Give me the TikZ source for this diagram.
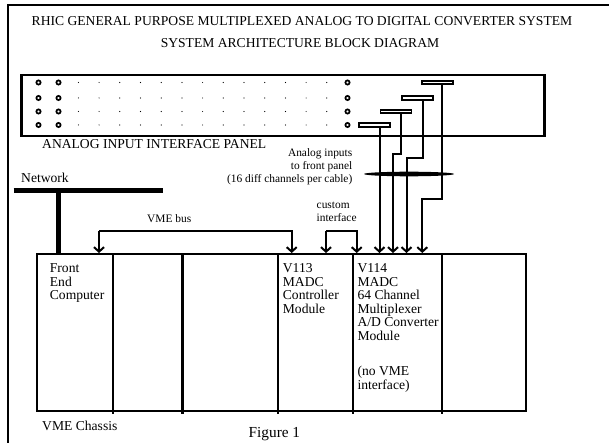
\documentclass[tikz,border=0pt]{standalone}
\usepackage{fontspec}
\setmainfont{Liberation Serif}
\usetikzlibrary{arrows.meta}
\tikzset{
  big/.style={font=\fontsize{13.6}{13.5}\selectfont, inner sep=0pt, align=left},
  small/.style={font=\fontsize{11.4}{12.9}\selectfont, inner sep=0pt},
  cable/.style={line width=2pt},
  arr/.style={-{Straight Barb[length=4.5pt,width=10pt,line width=2pt]}},
  slot/.style={draw, line width=1.7pt, minimum width=31pt, minimum height=3.4pt, inner sep=0pt, fill=white},
  hole/.style={draw, line width=1.7pt, fill=white},
}
\begin{document}
\begin{tikzpicture}[x=1pt,y=-1pt]
\useasboundingbox (0,0) rectangle (609,443);
% outer frame
\coordinate (fbl) at (8,443);
\coordinate (ftl) at (8,5);
\coordinate (ftr) at (609,5);
\draw[line width=2.5pt] (fbl) -- (ftl) -- (ftr);
% titles
\node[big, anchor=center] (t1) at (302,20.7) {RHIC GENERAL PURPOSE MULTIPLEXED ANALOG TO DIGITAL CONVERTER SYSTEM};
\node[big, anchor=center] (t2) at (300,42.7) {SYSTEM ARCHITECTURE BLOCK DIAGRAM};
% panel
\node[draw, line width=2.5pt, minimum width=523pt, minimum height=61pt, anchor=north west, inner sep=0pt] (panel) at (20,74) {};
\foreach \y in {82.5,98,111.5,125} {
  \draw[hole] (38.5,\y) circle (2.1pt);
  \draw[hole] (58.5,\y) circle (2.1pt);
  \draw[hole] (347.5,\y) circle (2.1pt);
  \foreach \i in {0,...,12} {
    \fill ({78.4+20.7*\i},\y) circle (0.6pt);
  }
}
\node[slot] (b4) at (374.5,125) {};
\node[slot] (b3) at (396,111.5) {};
\node[slot] (b2) at (417.5,98) {};
\node[slot] (b1) at (437.5,82.5) {};
\node[big, anchor=west] (ptitle) at (42,144) {ANALOG INPUT INTERFACE PANEL};
% analog input label
\node[small, anchor=north east, align=right] (ain) at (352.5,148.6) {Analog inputs\\to front panel\\(16 diff channels per cable)};
% chassis
\node[draw, line width=2.2pt, minimum width=489.3pt, minimum height=157pt, anchor=north west, inner sep=0pt] (chassis) at (35.7,253) {};
\foreach \x/\n in {112.6/d1,182.5/d2,278.3/d3,353.3/d4,441.7/d5} {
  \coordinate (\n) at (\x,253);
  \draw[line width=2.2pt] (\n) -- (\x,413.5);
}
% chassis labels
\node[big, anchor=north west] (fec) at (49.7,263.7) {Front\\End\\Computer};
\node[big, anchor=north west] (v113) at (282.7,263.7) {V113\\MADC\\Controller\\Module};
\node[big, anchor=north west] (v114) at (357.3,263.7) {V114\\MADC\\64 Channel\\Multiplexer\\A/D Converter\\Module\\[22pt](no VME\\interface)};
\node[big, anchor=west] (vc) at (42,426) {VME Chassis};
\node[inner sep=0pt, font=\fontsize{15.3}{16}\selectfont, anchor=base west] (fig) at (248.5,437) {Figure 1};
% network
\node[big, anchor=west] (net) at (21,178) {Network};
\coordinate (netL) at (13.5,190.7);
\coordinate (netR) at (162.5,190.7);
\coordinate (netJ) at (58.3,190.7);
\draw[line width=4.5pt] (netL) -- (netR);
\draw[line width=4.5pt] (netJ) -- (netJ |- chassis.north);
% VME bus
\node[small, anchor=west] (vmeb) at (147,219) {VME bus};
\coordinate (busL) at (99,230.7);
\coordinate (busR) at (291.7,230.7);
\draw[cable, arr] (busL) -- (busL |- chassis.north);
\draw[cable, arr] (busL) -- (busR) -- (busR |- chassis.north);
% custom interface
\node[small, anchor=north west, align=left] (cust) at (316.5,202) {custom\\interface};
\coordinate (cuL) at (326,231);
\coordinate (cuR) at (356.7,231);
\draw[cable, arr] (cuL) -- (cuL |- chassis.north);
\draw[cable, arr] (cuL) -- (cuR) -- (cuR |- chassis.north);
% cables from panel
\coordinate (x2) at (393,0);
\coordinate (x3) at (406.5,0);
\coordinate (x4) at (422.3,0);
\draw[cable, arr] ([xshift=5pt]b4.south) -- ([xshift=5pt]b4.south |- chassis.north);
\draw[cable, arr] ([xshift=5pt]b3.south) -- ++(0,40) -| (x2 |- chassis.north);
\draw[cable, arr] ([xshift=5pt]b2.south) -- ++(0,57) -| (x3 |- chassis.north);
\draw[cable, arr] ([xshift=4.2pt]b1.south) -- ++(0,114) -| (x4 |- chassis.north);
% cable bundle tie
\fill (409,174) ellipse [x radius=45pt, y radius=2.3pt];
\end{tikzpicture}
\end{document}
